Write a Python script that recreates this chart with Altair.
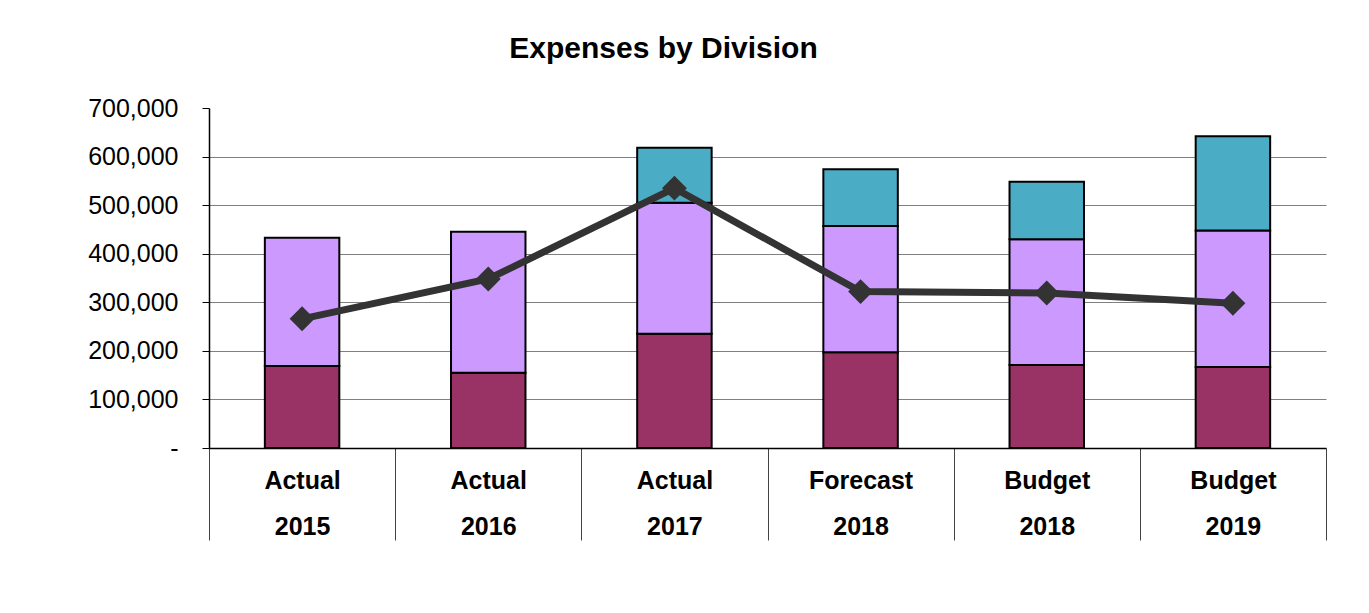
import altair as alt
import pandas as pd

categories = ["Actual|2015", "Actual|2016", "Actual|2017", "Forecast|2018", "Budget|2018", "Budget|2019"]
division_a = [169000, 155000, 235000, 197000, 171000, 167000]
division_b = [264000, 290000, 270000, 260000, 259000, 281000]
division_c = [0, 0, 113000, 117000, 118000, 194000]
line_values = [266000, 348000, 535000, 322000, 319000, 298000]
series_names = ["Division A", "Division B", "Division C"]
series_colors = ["#993366", "#CC99FF", "#4BACC6"]
y_ticks = [0, 100000, 200000, 300000, 400000, 500000, 600000, 700000]
grid_ticks = [100000, 200000, 300000, 400000, 500000, 600000]

rows = []
for i, c in enumerate(categories):
    for k, (name, vals) in enumerate(zip(series_names, [division_a, division_b, division_c])):
        if vals[i] > 0:
            rows.append({"category": c, "series": name, "value": vals[i], "order": k})
bars_df = pd.DataFrame(rows)
line_df = pd.DataFrame({"category": categories, "value": line_values})

FONT = "Liberation Sans"

x_axis = alt.Axis(
    title=None, labelAngle=0, labelExpr="split(datum.label, '|')",
    labelFont=FONT, labelFontSize=25, labelFontWeight="bold", labelColor="black",
    labelLineHeight=46, labelPadding=-72, labelLimit=400,
    tickBand="extent", tickSize=92, tickColor="#444444", tickWidth=1,
    domainColor="black", domainWidth=1.5, grid=False,
)
x_scale = alt.Scale(paddingInner=0, paddingOuter=0)

y_axis = alt.Axis(
    title=None, values=y_ticks,
    labelExpr="datum.value == 0 ? '-\u00a0\u00a0' : format(datum.value, ',')",
    labelFont=FONT, labelFontSize=25, labelColor="black", labelPadding=24,
    tickSize=7, tickColor="black", domainColor="black", domainWidth=1.5,
    grid=True, gridColor="#7f7f7f", gridWidth=1,
    gridOpacity={"condition": {"test": "datum.value >= 700000 || datum.value <= 0", "value": 0}, "value": 1},
    minExtent=196, maxExtent=196,
)
y_scale = alt.Scale(domain=[0, 700000], nice=False)

bars = alt.Chart(bars_df).mark_bar(
    width=alt.RelativeBandSize(0.4), stroke="black", strokeWidth=2
).encode(
    x=alt.X("category:N", sort=categories, scale=x_scale, axis=x_axis),
    y=alt.Y("value:Q", stack="zero", scale=y_scale, axis=y_axis),
    color=alt.Color("series:N", scale=alt.Scale(domain=series_names, range=series_colors), legend=None),
    order=alt.Order("order:Q"),
)

line = alt.Chart(line_df).mark_line(color="#333333", strokeWidth=7).encode(
    x=alt.X("category:N", sort=categories, scale=x_scale, axis=x_axis),
    y=alt.Y("value:Q", scale=y_scale, axis=y_axis),
)

points = alt.Chart(line_df).mark_point(
    shape="diamond", filled=True, size=620, color="#333333", opacity=1
).encode(
    x=alt.X("category:N", sort=categories, scale=x_scale, axis=x_axis),
    y=alt.Y("value:Q", scale=y_scale, axis=y_axis),
)

chart = alt.layer(bars, line, points).properties(
    width=1117, height=340,
    padding={"left": 5, "top": 26, "right": 5, "bottom": 5},
    view=alt.ViewBackground(strokeOpacity=0, strokeWidth=0),
    title=alt.TitleParams(
        "Expenses by Division", font=FONT, fontSize=30, fontWeight="bold",
        color="black", anchor="middle", dx=-104, offset=32,
    ),
).configure_view(stroke="transparent", strokeWidth=0, strokeOpacity=0).configure(background="white")

chart.save("out.html", embed_options={"renderer": "svg", "actions": False})
